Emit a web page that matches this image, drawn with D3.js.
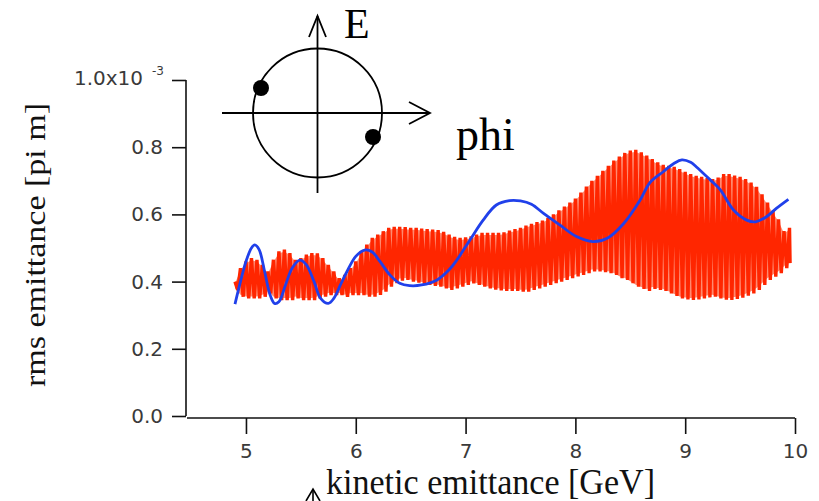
<!DOCTYPE html>
<html>
<head>
<meta charset="utf-8">
<script src="https://cdn.jsdelivr.net/npm/d3@7"></script>
<style>
  html, body { margin: 0; padding: 0; background: #fff; }
  svg { display: block; }
</style>
</head>
<body>
<svg id="chart" width="819" height="501"></svg>
<script>
// ---------------- data ----------------
const xTicks = [5, 6, 7, 8, 9, 10];
const yTicks = [0.0, 0.2, 0.4, 0.6, 0.8, 1.0];
const yTickLabels = ["0.0", "0.2", "0.4", "0.6", "0.8", "1.0x10"];
const yExponent = "-3";

// red curve: fast oscillation, sampled as successive maxima (at grid energy)
// and minima (half a step later); values in units of 1e-3 pi m
const redEnergy = d3.range(0, 102).map(i => +(4.90 + i * 0.05).toFixed(2));
const redMax = [
  0.40, 0.44, 0.46, 0.47, 0.465, 0.45, 0.43, 0.465, 0.49, 0.495,
  0.485, 0.465, 0.47, 0.48, 0.485, 0.484, 0.47, 0.45, 0.43, 0.41,
  0.42, 0.44, 0.46, 0.49, 0.51, 0.53, 0.54, 0.55, 0.56, 0.563,
  0.563, 0.562, 0.56, 0.56, 0.558, 0.556, 0.555, 0.553, 0.548, 0.54,
  0.533, 0.53, 0.532, 0.535, 0.54, 0.545, 0.545, 0.545, 0.545, 0.547,
  0.552, 0.556, 0.56, 0.567, 0.572, 0.577, 0.582, 0.59, 0.60, 0.612,
  0.623, 0.635, 0.647, 0.665, 0.683, 0.70, 0.715, 0.73, 0.745, 0.76,
  0.772, 0.783, 0.79, 0.792, 0.785, 0.775, 0.765, 0.755, 0.748, 0.745,
  0.742, 0.735, 0.727, 0.72, 0.715, 0.712, 0.708, 0.705, 0.71, 0.72,
  0.72, 0.716, 0.712, 0.705, 0.695, 0.682, 0.66, 0.635, 0.61, 0.585,
  0.55, 0.56
];
const redMin = [
  0.375, 0.355, 0.35, 0.35, 0.35, 0.355, 0.365, 0.35, 0.345, 0.345,
  0.345, 0.35, 0.345, 0.345, 0.345, 0.35, 0.355, 0.36, 0.36, 0.36,
  0.355, 0.36, 0.36, 0.36, 0.355, 0.355, 0.36, 0.37, 0.385, 0.395,
  0.403, 0.405, 0.40, 0.397, 0.393, 0.39, 0.387, 0.385, 0.38, 0.375,
  0.38, 0.385, 0.39, 0.395, 0.39, 0.385, 0.38, 0.376, 0.374, 0.372,
  0.372, 0.372, 0.37, 0.37, 0.375, 0.38, 0.385, 0.39, 0.395, 0.40,
  0.405, 0.41, 0.415, 0.42, 0.425, 0.43, 0.43, 0.428, 0.425, 0.42,
  0.41, 0.405, 0.395, 0.385, 0.378, 0.372, 0.378, 0.375, 0.372, 0.365,
  0.357, 0.35, 0.347, 0.345, 0.347, 0.35, 0.353, 0.355, 0.35, 0.346,
  0.345, 0.348, 0.352, 0.358, 0.365, 0.375, 0.39, 0.405, 0.415, 0.425,
  0.44, 0.455
];

// blue curve
const blueEnergy = [
  4.90, 4.95, 5.00, 5.05, 5.08, 5.12, 5.17, 5.22, 5.26, 5.30,
  5.36, 5.42, 5.49, 5.55, 5.62, 5.68, 5.75, 5.80, 5.86, 5.92,
  6.00, 6.08, 6.15, 6.22, 6.31, 6.40, 6.49, 6.60, 6.74, 6.85,
  6.92, 7.04, 7.16, 7.28, 7.40, 7.50, 7.60, 7.71, 7.86, 8.01,
  8.16, 8.29, 8.44, 8.59, 8.68, 8.80, 8.90, 8.97, 9.05, 9.10,
  9.23, 9.32, 9.44, 9.56, 9.64, 9.74, 9.83, 9.94
];
const blueValue = [
  0.333, 0.40, 0.46, 0.50, 0.509, 0.495, 0.43, 0.36, 0.335, 0.34,
  0.39, 0.44, 0.464, 0.45, 0.40, 0.35, 0.335, 0.35, 0.39, 0.43,
  0.475, 0.494, 0.488, 0.46, 0.42, 0.395, 0.388, 0.39, 0.405, 0.435,
  0.464, 0.524, 0.583, 0.628, 0.641, 0.640, 0.630, 0.603, 0.568, 0.534,
  0.519, 0.529, 0.573, 0.643, 0.695, 0.727, 0.752, 0.762, 0.755, 0.742,
  0.702, 0.673, 0.613, 0.583, 0.578, 0.593, 0.618, 0.645
];

// ---------------- chart ----------------
const svg = d3.select("#chart");
const x = d3.scaleLinear().domain([4.463, 10]).range([187, 795]);
const y = d3.scaleLinear().domain([0, 1.0]).range([416, 80]);

// red oscillation (max at grid energy, min half a step later)
const redPts = [];
redEnergy.forEach((e, i) => {
  redPts.push([e, redMax[i]]);
  if (i < redEnergy.length - 1) redPts.push([e + 0.025, redMin[i]]);
  else redPts.push([e + 0.005, redMin[i]]);
});
// light band under the oscillation (the gaps between strokes)
svg.append("path")
  .datum(redEnergy.map((e, i) => [e, redMax[i], redMin[i]]))
  .attr("fill", "#ff8a70")
  .attr("stroke", "none")
  .attr("d", d3.area().x(d => x(d[0])).y0(d => y(d[2]) - 2).y1(d => y(d[1]) + 2));
svg.append("path")
  .datum(redPts)
  .attr("fill", "none")
  .attr("stroke", "#ff2600")
  .attr("stroke-width", 3.4)
  .attr("stroke-linejoin", "miter")
  .attr("d", d3.line().x(d => x(d[0])).y(d => y(d[1])));

// blue
svg.append("path")
  .datum(blueEnergy.map((e, i) => [e, blueValue[i]]))
  .attr("fill", "none")
  .attr("stroke", "#2040ea")
  .attr("stroke-width", 2.8)
  .attr("d", d3.line().x(d => x(d[0])).y(d => y(d[1])).curve(d3.curveCatmullRom));

// axes
const tickFont = "'DejaVu Sans', Verdana, sans-serif";
const yAxis = svg.append("g")
  .attr("transform", "translate(186,0)")
  .call(d3.axisLeft(y).tickValues(yTicks).tickSize(14).tickPadding(9)
    .tickFormat((d, i) => yTickLabels[i]));
const xAxis = svg.append("g")
  .attr("transform", "translate(0,418)")
  .call(d3.axisBottom(x).tickValues(xTicks).tickSize(16).tickPadding(10)
    .tickFormat(d3.format("d")));

[yAxis, xAxis].forEach(g => {
  g.select(".domain").attr("stroke", "#111").attr("stroke-width", 1.6);
  g.selectAll(".tick line").attr("stroke", "#111").attr("stroke-width", 1.6);
  g.selectAll(".tick text")
    .attr("fill", "#3a3a3a")
    .style("font-family", tickFont)
    .style("font-size", "20px");
});
yAxis.select(".domain").attr("d", "M0," + y(1.0) + "V" + y(0));
xAxis.select(".domain").attr("d", "M187,0H" + x(10));
// exponent on top label
yAxis.selectAll(".tick text").filter((d, i) => i === yTicks.length - 1)
  .attr("x", -22).attr("dy", "0.2em")
  .append("tspan").attr("dy", "-0.8em").attr("dx", "9")
  .style("font-size", "12px").text(yExponent);

// axis titles
const serif = "'Liberation Serif', 'Times New Roman', serif";
svg.append("text")
  .attr("transform", "translate(45,245) rotate(-90)")
  .attr("text-anchor", "middle")
  .attr("textLength", 284).attr("lengthAdjust", "spacingAndGlyphs")
  .style("font-family", serif).style("font-size", "30px").attr("fill", "#111")
  .text("rms emittance [pi m]");
svg.append("text")
  .attr("x", 326).attr("y", 494)
  .attr("textLength", 329).attr("lengthAdjust", "spacingAndGlyphs")
  .style("font-family", serif).style("font-size", "35px").attr("fill", "#111")
  .text("kinetic emittance [GeV]");

// ---------------- phase-space inset ----------------
const ink = "#000";
const inset = svg.append("g").attr("fill", "none").attr("stroke", ink).attr("stroke-width", 1.8);
inset.append("circle").attr("cx", 317.5).attr("cy", 113).attr("r", 64.5);
inset.append("line").attr("x1", 317.5).attr("y1", 193).attr("x2", 317.5).attr("y2", 16);
inset.append("polyline").attr("points", "309,37 317.5,16 326,37");
inset.append("line").attr("x1", 222).attr("y1", 113).attr("x2", 430).attr("y2", 113);
inset.append("polyline").attr("points", "409,102 430,113 409,124");
svg.append("circle").attr("cx", 261).attr("cy", 88).attr("r", 8).attr("fill", ink);
svg.append("circle").attr("cx", 373).attr("cy", 137).attr("r", 8).attr("fill", ink);
svg.append("text").attr("x", 344).attr("y", 38)
  .style("font-family", serif).style("font-size", "42px").attr("fill", ink).text("E");
svg.append("text").attr("x", 456).attr("y", 150)
  .style("font-family", serif).style("font-size", "46px").attr("fill", ink).text("phi");

// partial arrow at bottom edge
const arrow = svg.append("g").attr("fill", "none").attr("stroke", ink).attr("stroke-width", 1.6);
arrow.append("line").attr("x1", 313).attr("y1", 490).attr("x2", 313).attr("y2", 501);
arrow.append("polyline").attr("points", "306,501 313,489 320,501");
</script>
</body>
</html>
